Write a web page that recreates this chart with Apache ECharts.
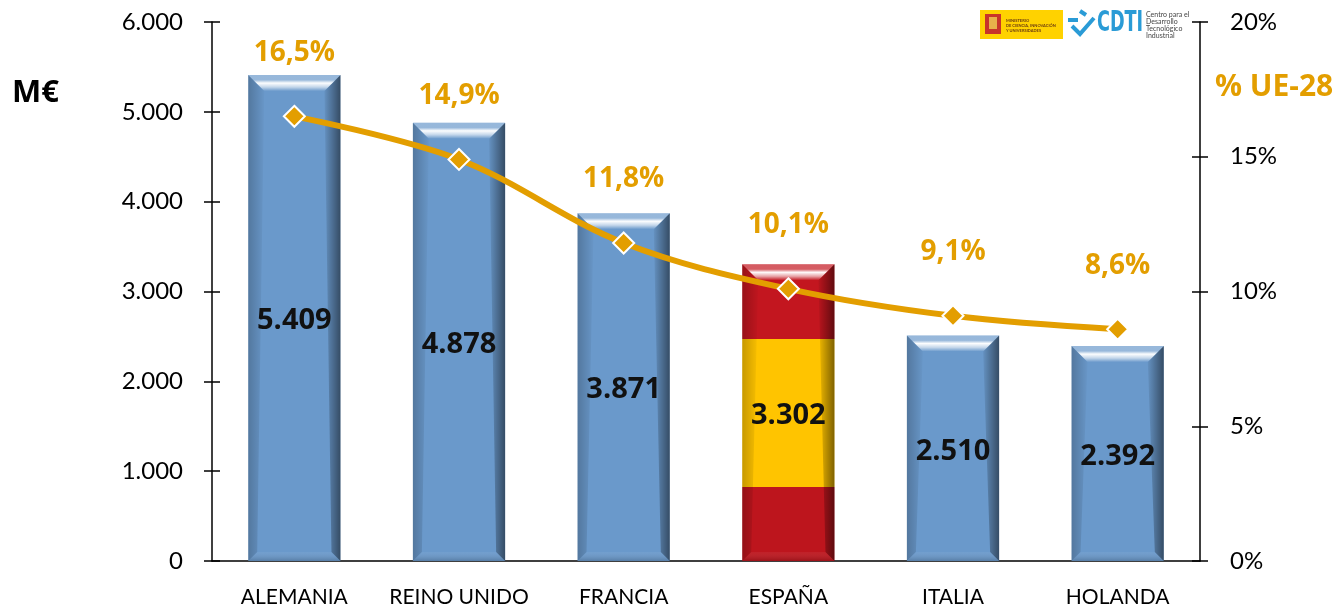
<!DOCTYPE html>
<html>
<head>
<meta charset="utf-8">
<script src="https://cdn.jsdelivr.net/npm/echarts@6/dist/echarts.min.js"></script>
<style>
  html, body { margin: 0; padding: 0; background: #fff; }
  #chart { width: 1342px; height: 608px; }
</style>
</head>
<body>
<div id="chart"></div>
<script>
// datos del gráfico
const categories = ['ALEMANIA', 'REINO UNIDO', 'FRANCIA', 'ESPAÑA', 'ITALIA', 'HOLANDA'];
const gastoMEur = [5409, 4878, 3871, 3302, 2510, 2392];
const pctUE28 = [16.5, 14.9, 11.8, 10.1, 9.1, 8.6];

const ORANGE = '#E39E00';
const FONT = 'Lato';
const BOLD_FONT = '"Open Sans"';

const chart = echarts.init(document.getElementById('chart'));

// formato español: separador de miles con punto
const fmtMiles = v => String(v).replace(/\B(?=(\d{3})+(?!\d))/g, '.');
const fmtPct = v => v.toFixed(1).replace('.', ',') + '%';

const lg = (x0, y0, x1, y1, stops) =>
  new echarts.graphic.LinearGradient(x0, y0, x1, y1, stops.map(s => ({ offset: s[0], color: s[1] })));

// barra con efecto biselado
function renderBar(params, api) {
  const i = api.value(0);
  const v = api.value(1);
  const top = api.coord([i, v]);
  const base = api.coord([i, 0]);
  const w = api.size([1, 0])[0] * 0.56;
  const x0 = top[0] - w / 2, x1 = top[0] + w / 2;
  const y0 = top[1], y1 = base[1], h = y1 - y0;
  const spain = categories[i] === 'ESPAÑA';
  const fill = spain
    ? lg(0, 0, 0, 1, [[0, '#C3161F'], [0.25, '#C3161F'], [0.25, '#FFC400'], [0.75, '#FFC400'], [0.75, '#BD151D'], [1, '#BD151D']])
    : '#6A99CB';
  const b = 16, bb = 9;
  return {
    type: 'group',
    children: [
      { type: 'rect', shape: { x: x0, y: y0, width: w, height: h }, style: { fill } },
      { type: 'polygon', shape: { points: [[x0, y0], [x0 + b, y0 + b], [x0 + bb, y1 - bb], [x0, y1]] },
        style: { fill: lg(0, 0, 1, 0, [[0, 'rgba(0,0,0,0.22)'], [1, 'rgba(0,0,0,0.02)']]) } },
      { type: 'polygon', shape: { points: [[x1, y0], [x1 - b, y0 + b], [x1 - bb, y1 - bb], [x1, y1]] },
        style: { fill: lg(0, 0, 1, 0, [[0, 'rgba(0,0,0,0.05)'], [1, 'rgba(0,0,0,0.5)']]) } },
      { type: 'polygon', shape: { points: [[x0, y0], [x1, y0], [x1 - b, y0 + b], [x0 + b, y0 + b]] },
        style: { fill: lg(0, 0, 0, 1, [[0, 'rgba(255,255,255,0.3)'], [0.3, 'rgba(255,255,255,0.3)'], [0.5, 'rgba(255,255,255,0.98)'], [0.75, 'rgba(255,255,255,0.6)'], [1, 'rgba(255,255,255,0)']]) } },
      { type: 'polygon', shape: { points: [[x0, y1], [x1, y1], [x1 - bb, y1 - bb], [x0 + bb, y1 - bb]] },
        style: { fill: lg(0, 0, 0, 1, [[0, 'rgba(255,255,255,0.05)'], [1, 'rgba(0,0,0,0.18)']]) } },
      { type: 'text', style: { text: fmtMiles(v), x: top[0], y: (y0 + y1) / 2 + 3, align: 'center', verticalAlign: 'middle',
        font: 'bold 29px ' + BOLD_FONT, fill: '#111' } }
    ]
  };
}

const axisLineStyle = { color: '#000', width: 1.5 };

const option = {
  animation: false,
  grid: { left: 212, right: 142, top: 22, bottom: 47 },
  xAxis: [
    {
      type: 'category',
      data: categories,
      axisLine: { lineStyle: axisLineStyle },
      axisTick: { length: 8, lineStyle: axisLineStyle },
      axisLabel: { color: '#000', fontFamily: FONT, fontSize: 21, margin: 26, interval: 0 }
    },
    {
      type: 'category',
      data: categories,
      position: 'bottom',
      axisLine: { show: false },
      axisTick: { inside: true, length: 8, lineStyle: axisLineStyle },
      axisLabel: { show: false }
    }
  ],
  yAxis: [
    {
      type: 'value', min: 0, max: 6000, interval: 1000, position: 'left',
      axisLine: { show: true, lineStyle: axisLineStyle },
      axisTick: { show: true, length: 8, lineStyle: axisLineStyle },
      splitLine: { show: false },
      axisLabel: { color: '#000', fontFamily: FONT, fontSize: 24, margin: 29, formatter: v => fmtMiles(v) }
    },
    {
      type: 'value', min: 0, max: 20, interval: 5, position: 'right',
      axisLine: { show: true, lineStyle: axisLineStyle },
      axisTick: { show: true, length: 8, lineStyle: axisLineStyle },
      splitLine: { show: false },
      axisLabel: { color: '#000', fontFamily: FONT, fontSize: 24, margin: 30, formatter: '{value}%' }
    },
    {
      type: 'value', min: 0, max: 6000, interval: 1000, position: 'left',
      axisLine: { show: false }, splitLine: { show: false }, axisLabel: { show: false },
      axisTick: { show: true, inside: true, length: 8, lineStyle: axisLineStyle }
    },
    {
      type: 'value', min: 0, max: 20, interval: 5, position: 'right',
      axisLine: { show: false }, splitLine: { show: false }, axisLabel: { show: false },
      axisTick: { show: true, inside: true, length: 8, lineStyle: axisLineStyle }
    }
  ],
  series: [
    {
      name: 'M€',
      type: 'custom',
      renderItem: renderBar,
      encode: { x: 0, y: 1 },
      data: gastoMEur.map((v, i) => [i, v]),
      z: 2
    },
    {
      name: '% UE-28',
      type: 'line',
      yAxisIndex: 1,
      data: pctUE28,
      smooth: 0.35,
      symbol: 'diamond',
      symbolSize: 21,
      lineStyle: { color: ORANGE, width: 6 },
      itemStyle: { color: ORANGE, borderColor: '#fff', borderWidth: 2 },
      label: {
        show: true, position: 'top', distance: 38,
        color: ORANGE, fontFamily: BOLD_FONT, fontWeight: 'bold', fontSize: 28,
        formatter: p => fmtPct(p.value)
      },
      z: 3
    }
  ],
  graphic: [
    { type: 'text', left: 12, top: 78, style: { text: 'M€', font: 'bold 31px ' + BOLD_FONT, fill: '#000' } },
    { type: 'text', left: 1215, top: 72, style: { text: '% UE-28', font: 'bold 30px ' + BOLD_FONT, fill: ORANGE } },
    // logo ministerio
    { type: 'rect', shape: { x: 980, y: 10, width: 83, height: 29 }, style: { fill: '#FFD200' } },
    { type: 'rect', shape: { x: 985, y: 14, width: 16, height: 20 }, style: { fill: '#C8342A' } },
    { type: 'rect', shape: { x: 989, y: 17, width: 8, height: 12 }, style: { fill: '#E8B04A' } },
    { type: 'text', x: 1006, y: 18, style: { text: 'MINISTERIO\nDE CIENCIA, INNOVACIÓN\nY UNIVERSIDADES', font: 'bold 4px ' + FONT, fill: '#6a3a10', lineHeight: 5 } },
    // logo CDTI
    { type: 'polyline', shape: { points: [[1068, 20], [1078, 20]] }, style: { stroke: '#2A9BD6', lineWidth: 4 } },
    { type: 'polyline', shape: { points: [[1072, 26], [1080, 34], [1094, 18]] }, style: { stroke: '#2A9BD6', lineWidth: 4, fill: null } },
    { type: 'polyline', shape: { points: [[1080, 11], [1086, 15]] }, style: { stroke: '#2A9BD6', lineWidth: 4 } },
    { type: 'text', x: 1097, y: 10, scaleX: 0.7, style: { text: 'CDTI', font: 'bold 28px "DejaVu Sans Condensed", ' + FONT, fill: '#2A9BD6' } },
    { type: 'text', x: 1146, y: 11, style: { text: 'Centro para el\nDesarrollo\nTecnológico\nIndustrial', font: '7px ' + FONT, fill: '#444', lineHeight: 7 } }
  ]
};

chart.setOption(option);
</script>
</body>
</html>
